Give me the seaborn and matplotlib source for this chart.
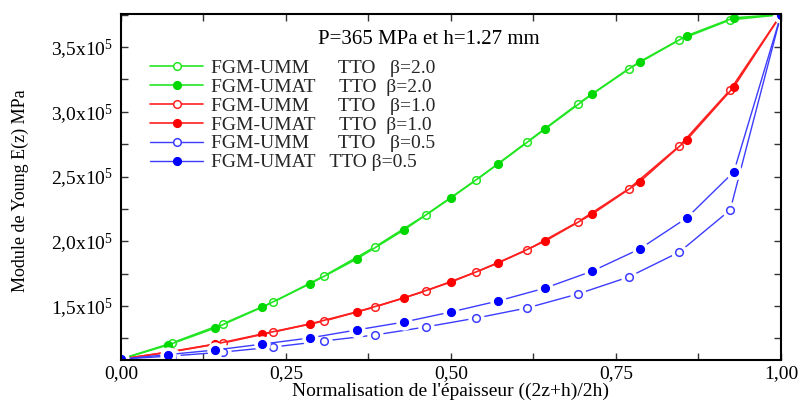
import numpy as np
import pandas as pd
import matplotlib
matplotlib.use("Agg")
import matplotlib.pyplot as plt
import seaborn as sns
from matplotlib.ticker import MultipleLocator, FixedLocator, FuncFormatter

# ---- data (E in units of 1e5 MPa) ----
x_umm = [j / 13 for j in range(14)]
x_umat = [k / 14 for k in range(15)]

g_umm = [1.09, 1.214, 1.361, 1.531, 1.732, 1.956, 2.203, 2.474, 2.767, 3.061, 3.332, 3.556, 3.710, 3.750]
g_umat = [1.09, 1.199, 1.330, 1.492, 1.670, 1.863, 2.087, 2.335, 2.597, 2.868, 3.138, 3.386, 3.587, 3.726, 3.750]
r_umm = [1.09, 1.147, 1.214, 1.299, 1.384, 1.492, 1.616, 1.763, 1.933, 2.149, 2.404, 2.736, 3.169, 3.750]
r_umat = [1.09, 1.144, 1.206, 1.284, 1.361, 1.454, 1.562, 1.685, 1.832, 2.002, 2.211, 2.458, 2.783, 3.192, 3.750]
b_umm = [1.09, 1.114, 1.144, 1.183, 1.230, 1.276, 1.338, 1.407, 1.485, 1.593, 1.724, 1.917, 2.242, 3.750]
b_umat = [1.09, 1.125, 1.160, 1.206, 1.253, 1.315, 1.376, 1.454, 1.539, 1.639, 1.770, 1.940, 2.180, 2.536, 3.750]

labels = ["FGM-UMM      TTO   \u03b2=2.0", "FGM-UMAT     TTO  \u03b2=2.0",
          "FGM-UMM      TTO   \u03b2=1.0", "FGM-UMAT     TTO  \u03b2=1.0",
          "FGM-UMM      TTO   \u03b2=0.5", "FGM-UMAT   TTO \u03b2=0.5"]
annot = "P=365 MPa et h=1.27 mm"
xlabel = "Normalisation de l'\u00e9paisseur ((2z+h)/2h)"
ylabel = "Module de Young E(z) MPa"
xtick_vals = [0.0, 0.25, 0.5, 0.75, 1.0]
ytick_vals = [1.5, 2.0, 2.5, 3.0, 3.5]

sns.set_theme(style="white")
plt.rcParams['font.family'] = ['Liberation Serif', 'DejaVu Serif']
plt.rcParams['mathtext.fontset'] = 'custom'
plt.rcParams['mathtext.rm'] = 'Liberation Serif'
plt.rcParams['mathtext.it'] = 'Liberation Serif:italic'

fig = plt.figure(figsize=(8.03, 4.03), dpi=100)
ax = fig.add_axes([121/803, 1 - 360/403, 660/803, 346/403])

series = [
    (x_umm, g_umm, "#22e622", "white", labels[0], False),
    (x_umat, g_umat, "#22e622", "#00d800", labels[1], False),
    (x_umm, r_umm, "#ff2020", "white", labels[2], False),
    (x_umat, r_umat, "#ff2020", "#ff0000", labels[3], False),
    (x_umm, b_umm, "#3c3cff", "white", labels[4], True),
    (x_umat, b_umat, "#3c3cff", "#0000ff", labels[5], True),
]

for xs, ys, col, fc, lab, halo in series:
    df = pd.DataFrame({"x": xs, "E": np.array(ys) * 1e5})
    ec = col if fc == "white" else fc
    if halo:
        sns.lineplot(data=df, x="x", y="E", ax=ax, color=col, lw=1.0,
                     sort=False, estimator=None, legend=False)
        sns.lineplot(data=df, x="x", y="E", ax=ax, lw=0, marker="o",
                     markersize=11, markerfacecolor="white", markeredgecolor="white",
                     sort=False, estimator=None, legend=False)
        sns.lineplot(data=df, x="x", y="E", ax=ax, color=col, lw=0, marker="o",
                     markersize=5.5, markerfacecolor=fc, markeredgecolor=ec,
                     markeredgewidth=1.1, sort=False, estimator=None, legend=False)
        ax.plot([], [], color=col, lw=1.0, marker="o", markersize=5.5,
                markerfacecolor=fc, markeredgecolor=ec, markeredgewidth=1.1, label=lab)
    else:
        sns.lineplot(data=df, x="x", y="E", ax=ax, color=col, lw=1.2, marker="o",
                     markersize=5.5, markerfacecolor=fc, markeredgecolor=ec,
                     markeredgewidth=1.1, sort=False, estimator=None, label=lab)

ax.set_xlim(0, 1)
ax.set_ylim(1.083e5, 3.755e5)

ax.xaxis.set_major_locator(FixedLocator(xtick_vals))
ax.xaxis.set_minor_locator(MultipleLocator(0.125))
ax.yaxis.set_major_locator(FixedLocator([v * 1e5 for v in ytick_vals]))
ax.yaxis.set_minor_locator(MultipleLocator(0.25e5))
ax.xaxis.set_major_formatter(FuncFormatter(lambda v, p: f"{v:.2f}".replace(".", ",")))
ax.yaxis.set_major_formatter(FuncFormatter(lambda v, p: f"{v/1e5:.1f}".replace(".", ",") + "x10$^{5}$"))

ax.tick_params(which="both", direction="in", top=True, right=True, bottom=True, left=True,
               length=5, width=1.0, color="#333333", labelsize=14, labelcolor="black")
ax.tick_params(axis="x", pad=4)
ax.tick_params(axis="y", pad=6)
for s in ax.spines.values():
    s.set_color("black")
    s.set_linewidth(1.5)
ax.grid(False)

ax.set_xlabel(xlabel, fontsize=14, labelpad=0, color="black")
ax.set_ylabel(ylabel, fontsize=13, color="black")
ax.yaxis.set_label_coords(-0.140, 0.49)

ax.text(0.298, 0.913, annot, transform=ax.transAxes, fontsize=15, color="black",
        va="baseline")

leg = ax.legend(loc="upper left", bbox_to_anchor=(0.044, 0.870), frameon=False,
                fontsize=14, handlelength=2.73, handletextpad=0.41, labelspacing=0.07,
                borderaxespad=0, borderpad=0)

fig.savefig("out.png", dpi=100)
